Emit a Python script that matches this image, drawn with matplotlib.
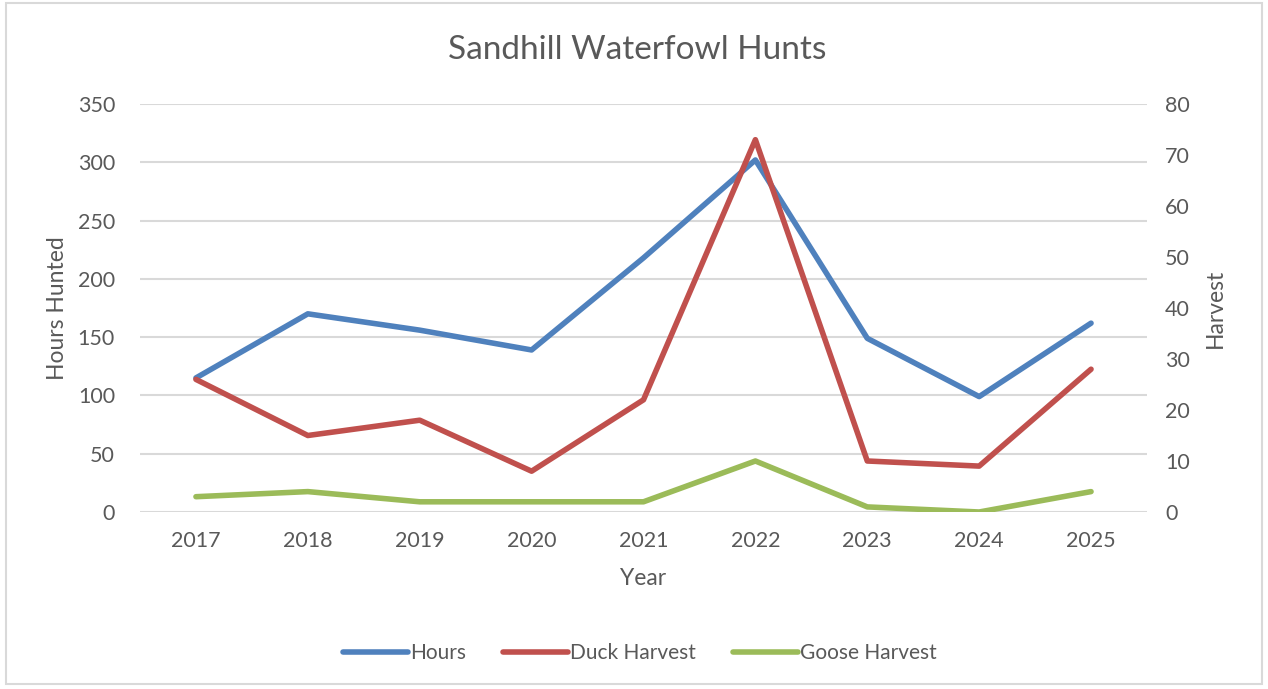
import matplotlib
matplotlib.use('Agg')
import matplotlib.pyplot as plt
from matplotlib.patches import Rectangle

years = ['2017', '2018', '2019', '2020', '2021', '2022', '2023', '2024', '2025']
hours = [115, 170, 156, 139, 218, 302, 149, 99, 162]
duck_harvest = [26, 15, 18, 8, 22, 73, 10, 9, 28]
goose_harvest = [3, 4, 2, 2, 2, 10, 1, 0, 4]

BLUE = '#4f81bd'
RED = '#c0504d'
GREEN = '#9bbb59'
TEXT = '#595959'
GRID = '#d9d9d9'

plt.rcParams['font.family'] = ['Lato', 'DejaVu Sans']

fig = plt.figure(figsize=(12.68, 6.89), dpi=100)
# chart border
fig.patches.append(Rectangle((6 / 1268, 5 / 689), 1 - 12 / 1268, 1 - 8 / 689,
                             transform=fig.transFigure, fill=False,
                             edgecolor=GRID, linewidth=1.5))

ax = fig.add_axes([140 / 1268, 1 - 512 / 689, (1147 - 140) / 1268, (512 - 104) / 689])
ax2 = ax.twinx()

x = list(range(len(years)))
l1, = ax.plot(x, hours, color=BLUE, lw=4, solid_capstyle='round', label='Hours', zorder=3)
l2, = ax2.plot(x, duck_harvest, color=RED, lw=4, solid_capstyle='round', label='Duck Harvest')
l3, = ax2.plot(x, goose_harvest, color=GREEN, lw=4, solid_capstyle='round', label='Goose Harvest')

ax.set_xlim(-0.5, len(years) - 0.5)
ax.set_ylim(0, 350)
ax.set_yticks(range(0, 351, 50))
ax2.set_ylim(0, 80)
ax2.set_yticks(range(0, 81, 10))
ax.set_xticks(x)
ax.set_xticklabels(years)

ax.grid(axis='y', color=GRID, lw=1.5)
ax.set_axisbelow(True)
for a in (ax, ax2):
    for s in a.spines.values():
        s.set_visible(False)
    a.tick_params(length=0, labelsize=15.5, colors=TEXT)
ax.tick_params(axis='y', pad=18)
ax.tick_params(axis='x', pad=14)
ax2.tick_params(axis='y', pad=13)

ax.set_xlabel('Year', fontsize=16.5, color=TEXT, labelpad=12)
ax.set_ylabel('Hours Hunted', fontsize=16.5, color=TEXT, labelpad=7)
ax2.set_ylabel('Harvest', fontsize=16.5, color=TEXT, labelpad=11)

fig.text(637 / 1268, 1 - 50 / 689, 'Sandhill Waterfowl Hunts', ha='center', va='center',
         fontsize=24, color=TEXT)

fig.legend(handles=[l1, l2, l3], loc='center', bbox_to_anchor=(640 / 1268, 1 - 653 / 689),
           ncol=3, frameon=False, fontsize=15, labelcolor=TEXT,
           handlelength=3.1, handletextpad=0.1, columnspacing=1.8)

fig.savefig('out.png', dpi=100)
